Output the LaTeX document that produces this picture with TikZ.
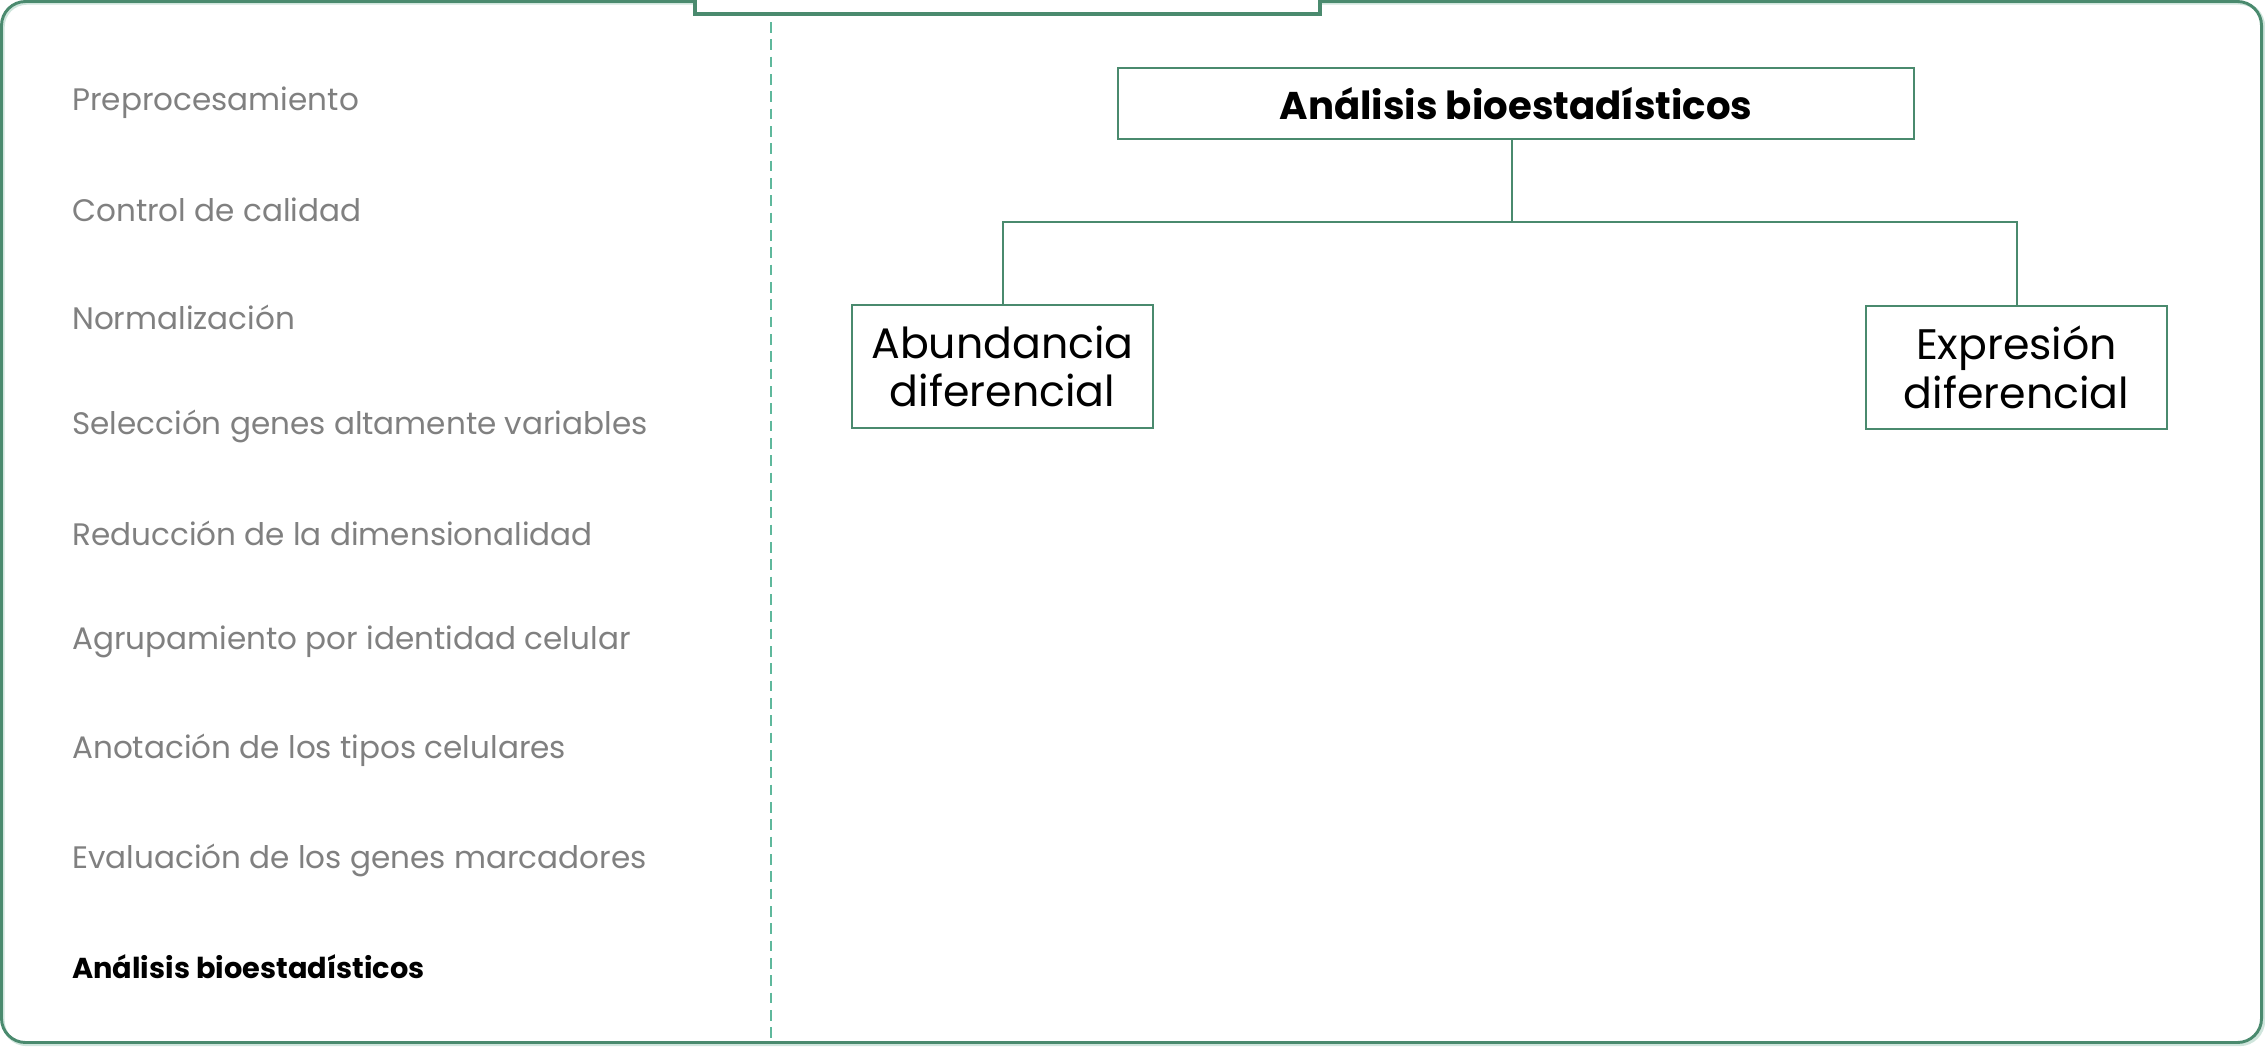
\documentclass[tikz,border=0pt]{standalone}
\usepackage{fontspec}
\setmainfont{Poppins}
\definecolor{frame}{HTML}{4A8A6E}
\definecolor{framelight}{HTML}{CFE5DC}
\definecolor{dashc}{HTML}{5FB89C}
\definecolor{graytxt}{HTML}{808080}
\tikzset{
  listitem/.style={anchor=west, inner sep=0pt, text=graytxt, font=\fontsize{23.3pt}{28pt}\selectfont},
  listcur/.style={anchor=west, inner sep=0pt, text=black, font=\fontsize{21.6pt}{26pt}\selectfont\bfseries},
  mainbox/.style={draw=frame, line width=1.5pt, fill=white, minimum width=597pt, minimum height=53pt, inner sep=0pt, font=\fontsize{29pt}{34pt}\selectfont\bfseries},
  subbox/.style={draw=frame, line width=1.5pt, fill=white, minimum width=226pt, minimum height=92pt, inner sep=0pt, align=center, font=\fontsize{32pt}{36.5pt}\selectfont},
  conn/.style={draw=frame, line width=1.5pt}
}
\begin{document}
\begin{tikzpicture}[x=0.75pt,y=-0.75pt]
\useasboundingbox (0,0) rectangle (2265,1046);
% outer frame
\draw[framelight, line width=2.5pt, rounded corners=18pt] (3,3) rectangle (2263.5,1044.5);
\draw[frame, line width=2.2pt, rounded corners=18pt] (1.5,1.5) rectangle (2261.5,1042.5);
% top tab
\fill[white] (695,-2) rectangle (1320,14);
\draw[frame, line width=2.4pt] (695,-2) -- (695,14) -- (1320,14) -- (1320,-2);
% dashed separator
\draw[dashc, line width=1.5pt, dash pattern=on 8pt off 5pt] (771,22) -- (771,1040);
% left list
\node[listitem] (l1) at (72,103) {Preprocesamiento};
\node[listitem] (l2) at (72,210) {Control de calidad};
\node[listitem] (l3) at (72,317) {Normalización};
\node[listitem] (l4) at (72,426) {Selección genes altamente variables};
\node[listitem] (l5) at (72,533) {Reducción de la dimensionalidad};
\node[listitem] (l6) at (72,642) {Agrupamiento por identidad celular};
\node[listitem] (l7) at (72,750) {Anotación de los tipos celulares};
\node[listitem] (l8) at (72,860) {Evaluación de los genes marcadores};
\node[listcur] (l9) at (72,967) {Análisis bioestadísticos};
% tree
\node[mainbox] (title) at (1516,103.5) {Análisis bioestadísticos};
\node[subbox] (abund) at (1002.5,366.5) {Abundancia\\diferencial};
\node[subbox] (expr) at (2016.5,367.5) {Expresión\\diferencial};
\coordinate (j) at (1512,222);
\draw[conn] (1512,139) -- (j);
\draw[conn] (j) -| (abund.north);
\draw[conn] (j) -| (expr.north);
\end{tikzpicture}
\end{document}
